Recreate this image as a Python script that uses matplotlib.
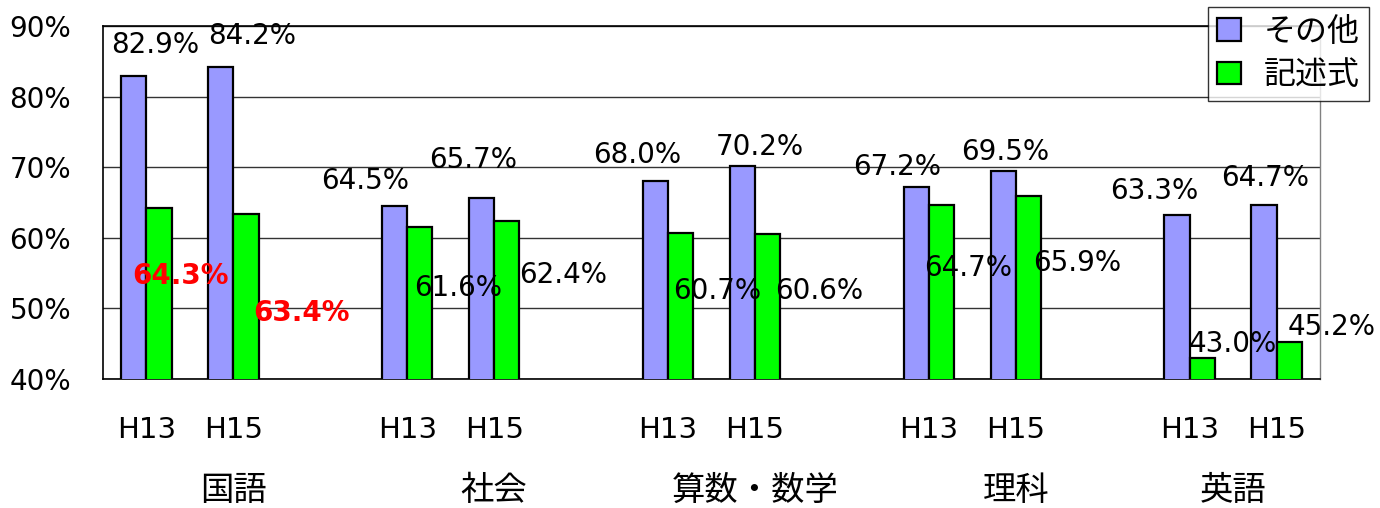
import matplotlib
matplotlib.use("Agg")
from matplotlib import pyplot as plt
from matplotlib.transforms import blended_transform_factory

# latin / digits in DejaVu (wider, closer to the original), Japanese falls back to Noto CJK
plt.rcParams["font.family"] = ["DejaVu Sans", "Noto Sans CJK JP"]

# data
subjects = ["国語", "社会", "算数・数学", "理科", "英語"]
years = ["H13", "H15"]
other_vals = [82.9, 84.2, 64.5, 65.7, 68.0, 70.2, 67.2, 69.5, 63.3, 64.7]
written_vals = [64.3, 63.4, 61.6, 62.4, 60.7, 60.6, 64.7, 65.9, 43.0, 45.2]
series_names = ["その他", "記述式"]

# hand-placed label positions (category units, percent), as in the original
other_label_xy = [(0.10, 87.3), (1.22, 88.6), (2.52, 68.1), (3.76, 71.0), (5.64, 71.7),
                  (7.05, 72.9), (8.63, 70.1), (9.88, 72.1), (11.59, 66.7), (12.87, 68.5)]
written_label_xy = [(0.39, 54.6), (1.78, 49.4), (3.58, 52.9), (4.79, 54.8), (6.57, 52.4),
                    (7.74, 52.4), (9.45, 55.7), (10.71, 56.4), (12.49, 45.0), (13.63, 47.4)]
highlight = [0, 1]  # written-test labels shown in red

blue = "#9999FF"
green = "#00FF00"
bar_w = 0.29

fig = plt.figure(figsize=(13.8, 5.08), dpi=100)
ax = fig.add_axes([0.0746, 0.254, 0.882, 0.6945])

# two year slots per subject, then an empty slot
xs = []
for i in range(len(subjects)):
    xs += [3 * i, 3 * i + 1]

ax.bar([x - bar_w / 2 for x in xs], other_vals, width=bar_w, color=blue,
       edgecolor="black", linewidth=1.6, label=series_names[0], zorder=3)
ax.bar([x + bar_w / 2 for x in xs], written_vals, width=bar_w, color=green,
       edgecolor="black", linewidth=1.6, label=series_names[1], zorder=3)

ax.set_xlim(-0.5, 13.5)
ax.set_ylim(40, 90)
ax.set_yticks(range(40, 91, 10))
ax.set_yticklabels([f"{v}%" for v in range(40, 91, 10)], fontsize=20)
ax.tick_params(axis="y", length=0, pad=23)
ax.set_xticks([])
ax.yaxis.grid(True, color="#333333", linewidth=1.0, zorder=0)
ax.set_axisbelow(True)

for side in ["left", "top", "bottom"]:
    ax.spines[side].set_color("black")
    ax.spines[side].set_linewidth(1.2)
ax.spines["right"].set_color("#808080")
ax.spines["right"].set_linewidth(1.0)

# data labels
for v, (lx, ly) in zip(other_vals, other_label_xy):
    ax.text(lx, ly, f"{v:.1f}%", ha="center", va="center", fontsize=20, zorder=5)
for k, (v, (lx, ly)) in enumerate(zip(written_vals, written_label_xy)):
    if k in highlight:
        ax.text(lx, ly, f"{v:.1f}%", ha="center", va="center", fontsize=20,
                color="red", fontweight="bold", zorder=5)
    else:
        ax.text(lx, ly, f"{v:.1f}%", ha="center", va="center", fontsize=20, zorder=5)

# category labels, two levels
trans = blended_transform_factory(ax.transData, ax.transAxes)
for i, name in enumerate(subjects):
    ax.text(3 * i, -0.145, years[0], transform=trans, ha="center", va="center", fontsize=21)
    ax.text(3 * i + 1, -0.145, years[1], transform=trans, ha="center", va="center", fontsize=21)
    # label sits over the middle of its 3-slot group (last group has 2 slots)
    cx = 3 * i + 1 if i < len(subjects) - 1 else 3 * i + 0.5
    ax.text(cx, -0.315, name, transform=trans, ha="center", va="center", fontsize=24)

leg = fig.legend(loc="upper right", bbox_to_anchor=(1369 / 1380, 1 - 7 / 508),
                 fontsize=23, frameon=True, fancybox=False, edgecolor="black",
                 handlelength=0.75, handleheight=0.7, handletextpad=0.7,
                 borderpad=0.3, labelspacing=0.4, borderaxespad=0)
leg.get_frame().set_linewidth(1.0)

plt.savefig("out.png", dpi=100)
